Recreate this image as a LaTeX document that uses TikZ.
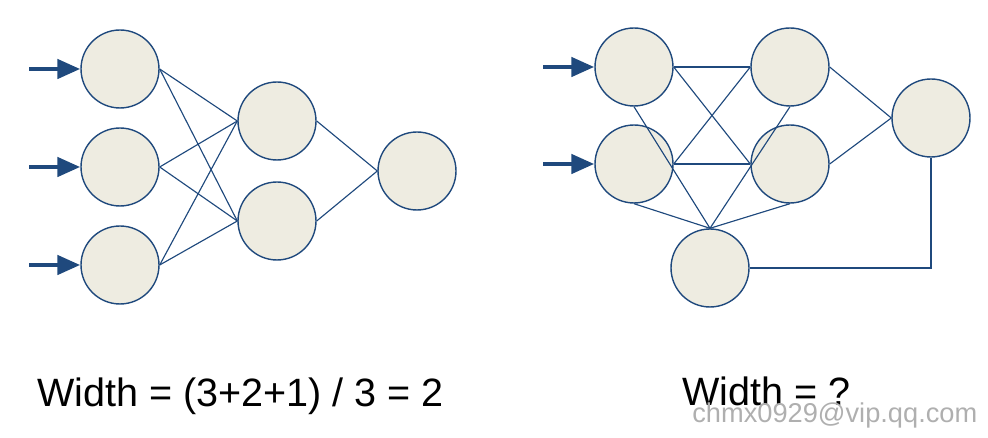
\documentclass[tikz,border=0pt]{standalone}
\usepackage{fontspec}
\setmainfont{Liberation Sans}
\usetikzlibrary{arrows.meta,positioning}
\definecolor{netBlue}{RGB}{31,73,125}
\definecolor{netFill}{RGB}{238,236,225}
\definecolor{markGray}{RGB}{175,175,175}

\begin{document}
\begin{tikzpicture}[x=0.02cm,y=-0.02cm,
    neuron/.style={circle, draw=netBlue, fill=netFill, line width=0.8pt, minimum size=1.56cm, inner sep=0pt},
    link/.style={draw=netBlue, line width=0.65pt},
    feed/.style={draw=netBlue, line width=2.6pt, -{Triangle[length=0.46cm,width=0.38cm]}},
    caption/.style={font=\fontsize{22.5pt}{26pt}\selectfont, inner sep=0pt, anchor=base west}]
\useasboundingbox (0,0) rectangle (988,438);

% left network
\node[neuron] (a1) at (120,69) {};
\node[neuron] (a2) at (120,167) {};
\node[neuron] (a3) at (120,265) {};
\node[neuron] (b1) at (277,121) {};
\node[neuron] (b2) at (277,221) {};
\node[neuron] (c1) at (417,171) {};

\foreach \i in {1,2,3} {
    \coordinate (s\i) at (29,0 |- a\i);
    \draw[feed] (s\i) -- (a\i.west);
    \foreach \j in {1,2}
        \draw[link] (a\i.east) -- (b\j.west);
}
\foreach \j in {1,2}
    \draw[link] (b\j.east) -- (c1.west);

% right network
\node[neuron] (p1) at (634,67) {};
\node[neuron] (p2) at (634,164) {};
\node[neuron] (q1) at (790,67) {};
\node[neuron] (q2) at (790,164) {};
\node[neuron] (r0) at (710,268) {};
\node[neuron] (r1) at (931,118) {};

\foreach \i in {1,2} {
    \coordinate (t\i) at (543,0 |- p\i);
    \draw[feed] (t\i) -- (p\i.west);
    \foreach \j in {1,2}
        \draw[link] (p\i.east) -- (q\j.west);
    \draw[link] (p\i.south) -- (r0.north);
    \draw[link] (q\i.south) -- (r0.north);
    \draw[link] (q\i.east) -- (r1.west);
}
\draw[link] (r0.east) -| (r1.south);

\node[caption] (w1) at (37,407) {Width = (3+2+1) / 3 = 2};
\node[caption] (w2) at (682,406) {Width = ?};
\node[caption, font=\fontsize{15.5pt}{19pt}\selectfont, text=markGray] (wm) at (692,423) {chmx0929@vip.qq.com};
\end{tikzpicture}
\end{document}
